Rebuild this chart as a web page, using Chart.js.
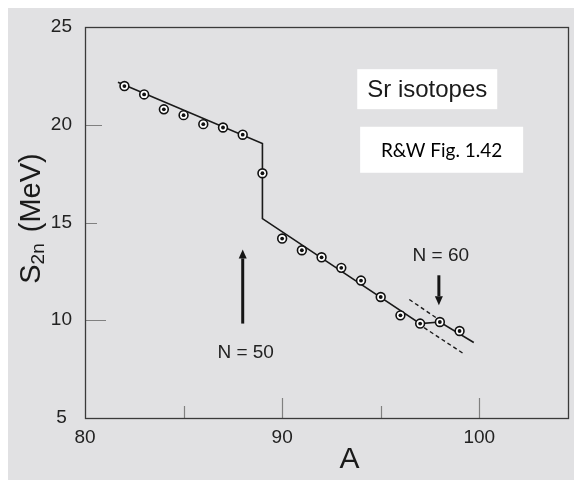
<!DOCTYPE html>
<html>
<head>
<meta charset="utf-8">
<script src="https://cdn.jsdelivr.net/npm/chart.js@4.4.1/dist/chart.umd.min.js"></script>
<style>
  html, body { margin: 0; padding: 0; background: #fff; }
  #wrap { position: relative; width: 574px; height: 481px; }
</style>
</head>
<body>
<div id="wrap"><canvas id="s2nCanvas" width="574" height="481"></canvas></div>
<script>
// Sr isotopes: mass number A and two-neutron separation energy S2n (MeV)
const massA = [82, 83, 84, 85, 86, 87, 88, 89, 90, 91, 92, 93, 94, 95, 96, 97, 98, 99];
const s2n = [21.98, 21.55, 20.79, 20.49, 20.03, 19.86, 19.49, 17.52, 14.18, 13.58,
             13.22, 12.68, 12.03, 11.19, 10.25, 9.83, 9.91, 9.45];

// solid guide line through the points (jump at N = 50)
const fitA = [81.67, 89, 89, 97, 98, 99.72];
const fitS = [22.17, 19.04, 15.2, 9.83, 9.91, 8.86];

// dashed guides around N = 60
const dashUpA = [96.45, 98];
const dashUpS = [11.06, 10.0];
const dashLoA = [97.2, 99.25];
const dashLoS = [9.62, 8.26];

const xTicks = [80, 85, 90, 95, 100];
const xLabels = ['80', '', '90', '', '100'];
const yTicks = [5, 10, 15, 20, 25];
const yLabels = ['5', '10', '15', '20', '25'];

const pts = (xs, ys) => xs.map((x, i) => ({ x: x, y: ys[i] }));
const sans = '"Liberation Sans", Arial, Helvetica, sans-serif';

// gray panel, inner tick marks, frame, notes, arrows and axis titles
const paperPlugin = {
  id: 'paper',
  beforeDraw(chart) {
    const ctx = chart.ctx;
    ctx.save();
    ctx.fillStyle = '#e1e1e3';
    ctx.fillRect(8, 8, chart.width - 8, chart.height - 9);
    ctx.restore();
  },
  afterDatasetsDraw(chart, args, opts) {
    const ctx = chart.ctx;
    const a = chart.chartArea;
    const xs = chart.scales.x, ys = chart.scales.y;
    ctx.save();

    // tick marks pointing into the plot
    ctx.strokeStyle = '#808080';
    ctx.lineWidth = 1.2;
    ctx.beginPath();
    opts.xTickLen.forEach(t => {
      const px = Math.round(xs.getPixelForValue(t[0])) + 0.5;
      ctx.moveTo(px, a.bottom);
      ctx.lineTo(px, a.bottom - t[1]);
    });
    opts.yTickLen.forEach(t => {
      const py = Math.round(ys.getPixelForValue(t[0])) + 0.5;
      ctx.moveTo(a.left, py);
      ctx.lineTo(a.left + t[1], py);
    });
    ctx.stroke();

    // frame
    ctx.strokeStyle = '#3a3a3a';
    ctx.lineWidth = 1.3;
    ctx.strokeRect(Math.round(a.left) + 0.5, Math.round(a.top) + 0.5,
                   Math.round(a.right - a.left), Math.round(a.bottom - a.top));

    // arrows
    ctx.fillStyle = '#151515';
    ctx.strokeStyle = '#151515';
    opts.arrows.forEach(ar => {
      const px = xs.getPixelForValue(ar.x);
      const p0 = ys.getPixelForValue(ar.from);
      const p1 = ys.getPixelForValue(ar.to);
      const dir = p1 < p0 ? -1 : 1;
      const head = 9;
      ctx.lineWidth = 3;
      ctx.beginPath();
      ctx.moveTo(px, p0);
      ctx.lineTo(px, p1 - dir * head);
      ctx.stroke();
      ctx.beginPath();
      ctx.moveTo(px, p1);
      ctx.lineTo(px - 4, p1 - dir * head);
      ctx.lineTo(px + 4, p1 - dir * head);
      ctx.closePath();
      ctx.fill();
      ctx.font = '19px ' + sans;
      ctx.textAlign = 'center';
      ctx.textBaseline = 'middle';
      ctx.fillStyle = '#222';
      ctx.fillText(ar.text, xs.getPixelForValue(ar.tx), ys.getPixelForValue(ar.ty));
      ctx.fillStyle = '#151515';
    });

    // white note boxes
    opts.notes.forEach(n => {
      const cx = xs.getPixelForValue(n.x), cy = ys.getPixelForValue(n.y);
      ctx.fillStyle = '#ffffff';
      ctx.fillRect(cx - n.w / 2, cy - n.h / 2, n.w, n.h);
      ctx.fillStyle = n.color;
      ctx.font = n.font;
      ctx.textAlign = 'center';
      ctx.textBaseline = 'middle';
      ctx.fillText(n.text, cx, cy + 1);
    });

    // x title
    ctx.fillStyle = '#1a1a1a';
    ctx.font = '30px ' + sans;
    ctx.textAlign = 'center';
    ctx.textBaseline = 'middle';
    ctx.fillText('A', 349.5, 460);

    // y title with subscript, rotated
    ctx.translate(39.5, 218.5);
    ctx.rotate(-Math.PI / 2);
    ctx.textAlign = 'left';
    ctx.textBaseline = 'alphabetic';
    const big = '29px ' + sans, small = '19px ' + sans;
    ctx.font = big;
    const wS = ctx.measureText('S').width;
    const wP = ctx.measureText('(MeV)').width;
    const gap = ctx.measureText(' ').width + 3;
    ctx.font = small;
    const wSub = ctx.measureText('2n').width;
    let x0 = -(wS + wSub + gap + wP) / 2;
    ctx.font = big;
    ctx.fillText('S', x0, 0);
    ctx.font = small;
    ctx.fillText('2n', x0 + wS, 4);
    ctx.font = big;
    ctx.fillText('(MeV)', x0 + wS + wSub + gap, 0);
    ctx.restore();
  }
};

const chart = new Chart(document.getElementById('s2nCanvas'), {
  type: 'scatter',
  data: {
    datasets: [
      { data: pts(massA, s2n), pointRadius: 1.9, pointBackgroundColor: '#111', pointBorderWidth: 0, order: 0 },
      { data: pts(massA, s2n), pointRadius: 4.4, pointBackgroundColor: '#fff', pointBorderColor: '#111', pointBorderWidth: 1.6, order: 1 },
      { data: pts(fitA, fitS), showLine: true, pointRadius: 0, borderColor: '#1a1a1a', borderWidth: 1.6, order: 2 },
      { data: pts(dashUpA, dashUpS), showLine: true, pointRadius: 0, borderColor: '#1a1a1a', borderWidth: 1.4, borderDash: [4, 3], order: 3 },
      { data: pts(dashLoA, dashLoS), showLine: true, pointRadius: 0, borderColor: '#1a1a1a', borderWidth: 1.4, borderDash: [4, 3], order: 3 }
    ]
  },
  options: {
    responsive: false,
    animation: false,
    events: [],
    layout: { padding: { left: 0, top: 27, right: 4, bottom: 0 } },
    plugins: {
      legend: { display: false },
      tooltip: { enabled: false },
      paper: {
        xTickLen: [[85, 12], [90, 20], [95, 12], [100, 20]],
        yTickLen: [[10, 21], [15, 12], [20, 17]],
        arrows: [
          { x: 88, from: 9.83, to: 13.62, text: 'N = 50', tx: 88.15, ty: 8.32 },
          { x: 97.95, from: 12.3, to: 10.77, text: 'N = 60', tx: 98.05, ty: 13.28 }
        ],
        notes: [
          { text: 'Sr isotopes', x: 97.36, y: 21.82, w: 140, h: 40, font: '24px ' + sans, color: '#1a1a1a' },
          { text: 'R&W Fig. 1.42', x: 98.09, y: 18.72, w: 163, h: 46, font: '19px Lato, "Open Sans", sans-serif', color: '#000' }
        ]
      }
    },
    scales: {
      x: {
        type: 'linear', min: 80, max: 104.5,
        afterBuildTicks: s => { s.ticks = xTicks.map(v => ({ value: v })); },
        afterFit: s => { s.height = 63; },
        grid: { display: false, drawTicks: false },
        border: { display: false },
        ticks: {
          padding: 8, color: '#222', autoSkip: false, maxRotation: 0,
          font: { family: sans, size: 19 },
          callback: (v, i) => xLabels[i]
        }
      },
      y: {
        type: 'linear', min: 5, max: 25,
        afterBuildTicks: s => { s.ticks = yTicks.map(v => ({ value: v })); },
        afterFit: s => { s.width = 85; },
        grid: { display: false, drawTicks: false },
        border: { display: false },
        ticks: {
          padding: 13, crossAlign: 'center', color: '#222',
          font: { family: sans, size: 19 },
          callback: (v, i) => yLabels[i]
        }
      }
    }
  },
  plugins: [paperPlugin]
});
</script>
</body>
</html>
